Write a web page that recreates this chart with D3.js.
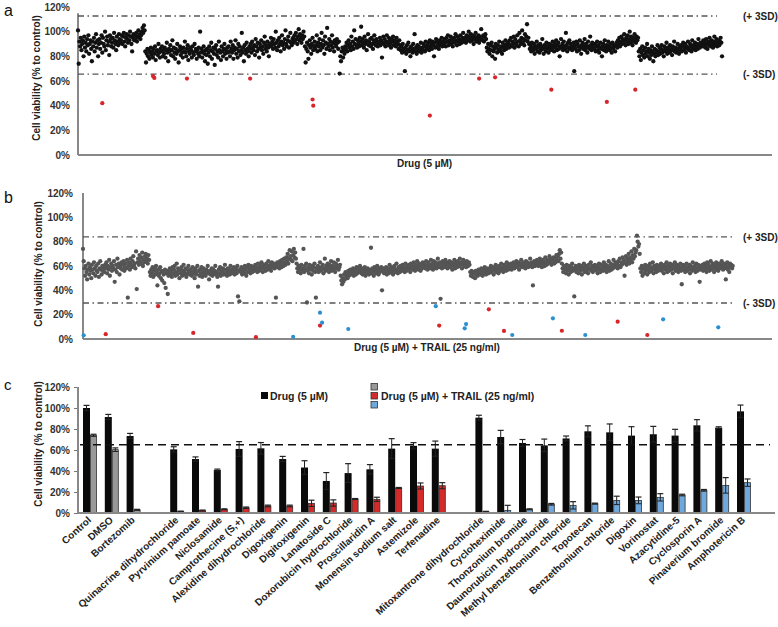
<!DOCTYPE html>
<html><head><meta charset="utf-8">
<script src="https://cdn.jsdelivr.net/npm/d3@7"></script>
<style>
body{margin:0;background:#fff;}
svg{display:block;font-family:Arial,"Liberation Sans",sans-serif;}
</style></head>
<body><svg id="chart" width="778" height="627"></svg>
<script>
// ---------- Panel a: Drug (5 µM) screen ----------
const aValues = [
101,74,92,88,95,85,90,93,80,96,87,91,84,94,89,97,82,90,93,86,76,92,88,95,84,91,98,87,93,80,90,
94,86,91,97,83,95,90,88,100,85,93,96,89,92,81,97,94,88,91,95,87,99,93,90,85,96,92,89,98,94,91,
93,97,90,96,99,92,88,95,98,94,91,97,93,100,96,90,84,95,98,93,97,94,99,92,96,101,95,98,94,97,100,
103,99,105,101,84,75,82,86,80,85,78,83,87,81,84,79,86,82,88,77,84,85,81,90,83,79,86,84,88,80,85,
82,87,79,85,91,83,76,86,84,89,81,85,93,80,87,83,78,86,82,90,84,75,85,88,81,86,83,79,87,84,92,
83,80,86,89,77,84,82,87,85,79,88,83,81,90,84,86,78,85,82,87,80,100,83,86,79,84,88,82,76,85,81,
86,74,83,88,80,85,91,78,84,87,82,73,86,89,81,84,79,92,85,83,77,88,84,80,86,90,82,85,78,87,83,
88,84,80,92,86,83,89,78,85,87,93,82,86,79,90,84,88,81,85,99,83,87,76,89,85,82,91,86,84,80,88,
86,90,83,92,87,85,89,81,94,88,84,91,86,79,90,87,93,85,88,82,91,96,86,89,84,92,87,80,90,88,95,
89,92,86,94,90,87,100,91,85,93,88,95,90,84,92,97,89,91,86,94,101,90,88,93,96,87,92,99,91,89,94,
95,91,97,93,99,94,90,96,102,93,98,95,91,97,94,100,96,88,75,86,91,84,78,89,93,87,82,90,95,85,88,
92,86,89,97,84,91,88,94,85,90,99,87,93,89,82,96,91,86,103,90,88,94,85,92,89,97,87,91,84,93,90,
88,94,91,86,92,66,80,76,84,87,79,85,82,88,86,91,84,89,93,87,90,85,96,88,92,86,101,90,94,89,87,
93,90,88,95,92,104,89,94,91,87,96,90,93,85,92,98,89,91,94,88,95,90,86,93,97,91,89,94,92,88,90,
92,95,89,93,79,91,96,90,94,88,92,97,91,89,95,93,90,87,94,92,96,89,93,91,88,95,92,90,86,93,89,
85,88,83,90,86,84,68,87,82,89,85,91,84,86,80,88,85,83,90,86,98,84,87,82,89,85,88,84,86,91,83,
87,85,90,88,84,92,86,89,87,91,85,93,88,90,86,92,89,80,91,87,94,88,92,90,86,93,89,91,95,88,92,
90,94,91,88,95,92,97,89,93,91,96,90,94,88,92,95,91,98,93,89,96,92,94,90,97,93,91,95,99,92,94,
95,91,97,93,96,100,94,92,98,95,93,97,90,96,94,99,92,95,93,97,91,96,94,102,95,93,97,92,96,98,94,
87,84,90,86,82,89,85,91,80,88,84,86,78,90,87,83,89,85,92,86,84,88,82,91,87,85,89,93,86,90,88,
91,87,93,89,95,88,92,90,96,87,94,91,89,97,92,88,99,93,90,95,101,91,94,89,98,93,96,106,92,95,90,
86,89,84,91,87,85,90,82,88,86,92,84,89,87,83,90,85,88,94,86,82,89,87,84,91,86,88,83,90,87,85,
89,86,92,88,84,90,87,93,85,89,91,86,80,88,94,87,90,85,92,88,86,99,89,84,91,87,93,86,90,88,85,
87,91,68,89,86,92,84,90,88,85,93,87,82,89,91,86,88,94,85,90,87,83,92,88,86,96,89,85,91,87,90,
86,90,84,88,92,85,89,83,87,91,86,80,88,90,85,93,87,84,89,86,92,88,85,90,87,83,91,86,89,88,84,
89,91,87,93,90,95,88,92,96,90,94,91,98,93,89,95,92,97,90,94,100,91,96,93,89,95,92,98,94,91,96,
93,95,84,80,86,77,83,88,81,85,79,87,82,84,90,80,86,83,78,85,81,88,84,76,82,86,80,85,83,89,81,
84,87,82,86,89,83,85,80,88,84,86,91,82,87,85,83,89,84,86,81,88,85,92,84,87,83,86,90,85,82,88,
86,89,84,88,91,85,87,90,83,88,86,92,87,85,90,88,84,93,86,89,87,91,85,88,90,86,94,88,87,91,89,
90,88,93,89,91,87,94,90,86,92,89,95,91,88,93,90,87,92,96,89,91,94,88,90,93,89,92,95,91,80
];
const aRedIdx = [35,108,110,157,248,338,339,507,578,601,682,762,803];
const aRedVal = [42,64,62.5,62,62,45,40,32,62,63,53,43,53];
const aSD = [112.7, 65.6];

// ---------- Panel b: Drug (5 µM) + TRAIL (25 ng/ml) screen ----------
const bValues = [
74,64,58,52,60,55,49,57,62,53,59,56,50,61,57,54,63,58,52,60,56,55,62,51,58,64,57,53,60,56,59,
55,61,58,63,54,60,57,65,52,59,62,56,60,58,64,47,57,61,55,66,59,62,53,60,58,63,57,61,64,56,59,
62,58,65,34,60,63,57,66,61,59,64,68,60,62,58,72,41,63,66,61,69,64,62,67,71,60,65,63,68,70,64,
66,62,69,65,55,52,57,54,59,51,56,58,53,60,55,44,57,52,54,59,50,56,48,55,53,46,57,42,54,56,37,
52,55,58,53,56,51,59,54,57,60,52,55,62,53,58,56,50,57,54,59,52,56,61,55,53,58,51,57,54,60,56,
53,57,55,52,59,54,56,50,58,53,55,60,43,56,52,57,54,59,51,55,58,53,56,52,57,55,60,54,49,56,53,
55,58,52,57,54,56,60,53,55,51,43,57,54,59,52,56,55,58,53,57,61,54,56,52,58,55,57,53,60,56,54,
57,55,59,53,56,58,54,60,35,56,31,57,55,59,53,58,56,54,60,57,52,59,55,61,56,58,54,60,57,55,59,
58,56,61,57,59,55,62,58,56,60,57,63,59,55,61,58,60,56,62,59,57,64,60,58,61,56,63,59,60,62,58,
61,34,59,63,60,62,58,64,61,59,65,62,60,66,63,61,67,64,70,62,66,73,68,65,72,64,69,74,67,71,66,
62,58,55,60,57,59,54,61,56,58,74,55,60,57,62,30,56,59,54,61,57,58,53,60,56,59,62,55,34,58,57,
60,55,58,63,56,59,57,61,54,58,66,56,60,57,62,59,55,61,58,64,56,60,57,63,59,55,62,58,60,65,57,
59,61,52,48,45,50,47,53,49,55,51,54,50,56,52,55,57,53,56,54,58,52,55,57,53,59,54,56,58,55,60,
56,54,58,53,57,55,59,52,56,54,58,56,53,57,55,75,54,58,56,52,59,55,57,54,60,56,53,58,55,57,59,
40,56,58,54,57,55,59,53,56,58,54,61,57,55,59,56,53,58,60,55,57,62,56,54,59,57,55,60,58,56,61,
57,59,55,62,58,56,60,57,61,59,55,62,58,60,57,63,59,56,61,58,64,60,57,62,59,56,61,58,63,60,59,
62,58,64,60,57,63,59,61,58,65,60,62,57,64,59,61,63,58,60,66,62,59,63,33,61,58,64,60,62,59,65,
61,63,58,62,60,64,59,61,63,57,62,60,65,58,63,61,59,64,62,60,66,61,63,58,62,65,60,63,61,59,64,
62,60,63,61,55,52,56,53,51,55,54,50,56,53,55,52,57,54,56,53,58,55,52,57,54,59,56,53,58,55,57,
54,58,56,60,55,57,59,53,58,56,61,55,59,57,54,60,58,56,62,57,59,55,61,58,60,56,63,59,57,61,58,
60,62,57,61,59,63,58,62,60,64,59,61,63,57,62,60,65,61,59,63,60,62,58,64,61,63,59,62,60,66,61,
63,59,44,62,64,60,63,61,65,62,60,64,66,61,63,59,65,62,64,60,67,63,61,65,62,64,68,63,66,61,65,
64,67,62,66,63,69,65,68,64,70,73,66,71,62,58,55,60,57,59,54,61,56,58,53,60,57,55,59,62,56,58,
35,57,60,55,59,57,54,61,58,56,60,53,59,57,62,55,58,60,56,59,54,61,57,58,63,56,60,55,59,57,61,
58,56,60,54,59,62,57,55,61,58,60,56,63,59,57,61,55,60,58,64,56,59,62,57,60,58,65,61,59,63,60,
62,58,64,60,66,59,63,61,67,62,65,52,63,68,61,66,64,70,62,67,65,72,63,69,66,74,68,71,73,85,80,
76,78,70,58,55,60,52,57,59,54,61,56,58,53,60,57,55,62,59,56,58,63,54,60,57,59,55,61,58,56,60,
57,59,62,56,60,58,54,61,57,59,63,55,60,58,56,62,59,57,61,54,60,58,63,56,59,61,57,55,60,58,62,
56,45,59,61,57,60,55,58,62,56,59,57,61,54,60,58,56,63,59,57,60,55,62,58,56,61,59,47,57,60,58,
61,56,59,62,57,60,55,63,58,61,56,59,64,57,60,62,58,55,61,59,63,57,60,56,62,58,61,59,64,60,57,
62,58,61,49,59,63,57,60,55,62,59,61,58,60
];
const bBlueIdx = [1,305,344,347,385,512,554,556,623,682,729,842,922];
const bBlueVal = [3,1.8,21.6,13.4,8.2,27,8.8,12.3,3.3,17,3.3,16.2,9.6];
const bRedIdx = [33,109,160,251,344,517,589,611,695,776,819];
const bRedVal = [4,27,5,1.5,11,11,24.4,6.6,6.8,14.2,3.3];
const bSD = [84, 29.6];

// ---------- Panel c: selected hits ----------
const categories = ["Control","DMSO","Bortezomib","",
 "Quinacrine dihydrochloride","Pyrvinium pamoate","Niclosamide","Camptothecine (S,+)",
 "Alexidine dihydrochloride","Digoxigenin","Digitoxigenin","Lanatoside C",
 "Doxorubicin hydrochloride","Proscillaridin A","Monensin sodium salt","Astemizole","Terfenadine"," ",
 "Mitoxantrone dihydrochloride","Cycloheximide","Thonzonium bromide","Daunorubicin hydrochloride",
 "Methyl benzethonium chloride","Topotecan","Benzethonium chloride","Digoxin","Vorinostat",
 "Azacytidine-5","Cyclosporin A","Pinaverium bromide","Amphotericin B"];
const drugVals = [100,91.4,73.3,null,60.6,51.4,41,61,61.6,51.4,43.3,30.5,38,41.6,61.3,64,61.3,null,
 90.8,72.4,66.7,64.4,71,77.8,76.8,73.7,75,73.7,83.5,81.3,96.8];
const drugErr = [2.5,2.5,2.5,null,2.5,2,0.8,7,5.5,2.5,6.5,8,9,4.5,9.5,3,7.2,null,
 2.3,6.3,3.3,6,2.3,5.2,8,8.5,7.5,6,5.4,0.8,6];
const trailVals = [74,60.3,3,null,1.5,2.3,3.5,5,6.7,6.7,9.2,9.5,13.3,13,23.8,25.7,26,null,
 1.3,2.5,3.5,8.3,7.3,8.9,12,12,14.9,17.1,21.6,26.3,28.9];
const trailErr = [1,1.7,0.5,null,0.3,0.5,0.5,0.7,0.8,0.8,3,3,0.5,2,0.5,2.9,2.9,null,
 0.3,4.8,0.5,0.8,3.5,0.5,4,3.2,3.5,0.8,0.8,7.4,3.5];
const trailGroup = ["ctrl","ctrl","ctrl",null,"red","red","red","red","red","red","red","red","red","red","red","red","red",null,
 "blue","blue","blue","blue","blue","blue","blue","blue","blue","blue","blue","blue","blue"];
const cCutoff = 65;
const yTicks = [0,20,40,60,80,100,120];

const groupColor = {ctrl:"#999999", red:"#d42a2a", blue:"#6fa8dc"};
const FONT = "Arial, 'Liberation Sans', sans-serif";
const svg = d3.select("#chart");
const pct = d => d + "%";

function yAxis(g, y, x0, pad, tickLen){
  const ax = d3.axisLeft(y).tickValues(yTicks).tickFormat(pct).tickSize(tickLen).tickPadding(pad);
  g.attr("transform", `translate(${x0},0)`).call(ax);
  g.select(".domain").remove();
  g.selectAll(".tick line").attr("stroke","#777");
  g.selectAll(".tick text").attr("font-size",10).attr("font-weight","bold").attr("fill","#333").attr("font-family",FONT);
}
function yLabel(x, y, txt){
  svg.append("text").attr("transform",`translate(${x},${y}) rotate(-90)`).attr("text-anchor","middle")
    .attr("font-size",10).attr("font-weight","bold").attr("fill","#222").text(txt);
}
function panelLetter(x,y,t,fs){
  svg.append("text").attr("x",x).attr("y",y).attr("font-size",fs).attr("fill","#111").text(t);
}
function sdLines(x, y, vals, x1, x2){
  vals.forEach((v,i)=>{
    svg.append("line").attr("x1",x1).attr("x2",x2).attr("y1",y(v)).attr("y2",y(v))
      .attr("stroke","#555").attr("stroke-width",1.3).attr("stroke-dasharray","6,3.5,1.5,3.5");
    svg.append("text").attr("x",743).attr("y",y(v)+4).attr("font-size",10).attr("font-weight","bold")
      .attr("fill","#222").text(i===0?"(+ 3SD)":"(- 3SD)");
  });
}

// ===== Panel a =====
{
  const y = d3.scaleLinear([0,120],[155,7]);
  const x = d3.scaleLinear([0,1000],[78,772]);
  yAxis(svg.append("g"), y, 78, 8, 0);
  svg.append("line").attr("x1",78).attr("x2",78).attr("y1",y(115)).attr("y2",y(0)).attr("stroke","#888").attr("stroke-width",2);
  svg.append("line").attr("x1",78).attr("x2",772).attr("y1",y(0)).attr("y2",y(0)).attr("stroke","#888").attr("stroke-width",2);
  sdLines(x, y, aSD, 78, 717);
  svg.append("g").selectAll("circle").data(aValues).join("circle")
    .attr("cx",(d,i)=>x(i)).attr("cy",d=>y(d)).attr("r",2.15).attr("fill","#111");
  svg.append("g").selectAll("circle").data(aRedIdx).join("circle")
    .attr("cx",d=>x(d)).attr("cy",(d,i)=>y(aRedVal[i])).attr("r",2.1).attr("fill","#d7262b");
  svg.append("text").attr("x",397).attr("y",167).attr("font-size",10).attr("font-weight","bold").attr("fill","#222").text("Drug (5 µM)");
  yLabel(40, 78, "Cell viability (% to control)");
  panelLetter(4,16,"a",16);
}

// ===== Panel b =====
{
  const y = d3.scaleLinear([0,120],[339,193]);
  const x = d3.scaleLinear([0,1000],[83,772]);
  yAxis(svg.append("g"), y, 83, 10, 0);
  svg.append("line").attr("x1",83).attr("x2",83).attr("y1",y(120)).attr("y2",y(0)).attr("stroke","#888").attr("stroke-width",2);
  svg.append("line").attr("x1",83).attr("x2",772).attr("y1",y(0)).attr("y2",y(0)).attr("stroke","#888").attr("stroke-width",2);
  sdLines(x, y, bSD, 83, 733);
  svg.append("g").selectAll("circle").data(bValues).join("circle")
    .attr("cx",(d,i)=>x(i)).attr("cy",d=>y(d)).attr("r",2.15).attr("fill","#555");
  svg.append("g").selectAll("circle").data(bRedIdx).join("circle")
    .attr("cx",d=>x(d)).attr("cy",(d,i)=>y(bRedVal[i])).attr("r",2.1).attr("fill","#d7262b");
  svg.append("g").selectAll("circle").data(bBlueIdx).join("circle")
    .attr("cx",d=>x(d)).attr("cy",(d,i)=>y(bBlueVal[i])).attr("r",2.1).attr("fill","#2b8fd0");
  svg.append("text").attr("x",354).attr("y",351).attr("font-size",10).attr("font-weight","bold").attr("fill","#222").text("Drug (5 µM) + TRAIL (25 ng/ml)");
  yLabel(42, 264, "Cell viability (% to control)");
  panelLetter(4,203,"b",16);
}

// ===== Panel c =====
{
  const y = d3.scaleLinear([0,120],[513,387]);
  const x = d3.scaleBand().domain(d3.range(categories.length)).range([78, 78+31*21.8]);
  const sub = d3.scaleBand().domain(["drug","trail"]).range([5,19]);
  yAxis(svg.append("g"), y, 78, 4, 4);
  svg.append("line").attr("x1",78).attr("x2",78).attr("y1",y(120)).attr("y2",y(0)).attr("stroke","#888").attr("stroke-width",2);

  const idx = d3.range(categories.length).filter(i=>drugVals[i]!=null);
  const bw = sub.bandwidth();
  svg.append("g").selectAll("rect").data(idx).join("rect")
    .attr("x",i=>x(i)+sub("drug")).attr("width",bw)
    .attr("y",i=>y(drugVals[i])).attr("height",i=>y(0)-y(drugVals[i]))
    .attr("fill","#0a0a0a");
  svg.append("g").selectAll("rect").data(idx).join("rect")
    .attr("x",i=>x(i)+sub("trail")+0.5).attr("width",bw-1)
    .attr("y",i=>y(trailVals[i])).attr("height",i=>y(0)-y(trailVals[i]))
    .attr("fill",i=>groupColor[trailGroup[i]]).attr("stroke","#333").attr("stroke-width",0.8);
  function errBars(vals, errs, key){
    const g = svg.append("g");
    idx.forEach(i=>{
      const cx = x(i)+sub(key)+bw/2;
      const top = y(vals[i]+errs[i]), bot = y(Math.max(0,vals[i]-errs[i]));
      g.append("line").attr("x1",cx).attr("x2",cx).attr("y1",top).attr("y2",bot).attr("stroke","#222").attr("stroke-width",1);
      g.append("line").attr("x1",cx-3).attr("x2",cx+3).attr("y1",top).attr("y2",top).attr("stroke","#222").attr("stroke-width",1.2);
      g.append("line").attr("x1",cx-3).attr("x2",cx+3).attr("y1",bot).attr("y2",bot).attr("stroke","#222").attr("stroke-width",1);
    });
  }
  errBars(drugVals, drugErr, "drug");
  errBars(trailVals, trailErr, "trail");
  svg.append("line").attr("x1",80).attr("x2",770).attr("y1",y(cCutoff)).attr("y2",y(cCutoff))
    .attr("stroke","#111").attr("stroke-width",1.5).attr("stroke-dasharray","8,5");
  svg.append("line").attr("x1",78).attr("x2",775).attr("y1",y(0)).attr("y2",y(0)).attr("stroke","#888").attr("stroke-width",2);

  svg.append("g").selectAll("text").data(categories).join("text")
    .attr("transform",(d,i)=>`translate(${x(i)+x.bandwidth()/2+3},521) rotate(-42)`)
    .attr("text-anchor","end").attr("font-size",10).attr("font-weight","bold").attr("fill","#222").text(d=>d);

  svg.append("rect").attr("x",261).attr("y",392).attr("width",7).attr("height",7).attr("fill","#0a0a0a");
  svg.append("text").attr("x",270).attr("y",400).attr("font-size",10.5).attr("font-weight","bold").attr("fill","#222").text("Drug (5 µM)");
  ["ctrl","red","blue"].forEach((k,j)=>{
    svg.append("rect").attr("x",371).attr("y",383.5+j*9).attr("width",6.5).attr("height",6.5)
      .attr("fill",groupColor[k]).attr("stroke","#333").attr("stroke-width",0.8);
  });
  svg.append("text").attr("x",381).attr("y",400).attr("font-size",10.5).attr("font-weight","bold").attr("fill","#222").text("Drug (5 µM) + TRAIL (25 ng/ml)");
  yLabel(42, 444, "Cell viability (% to control)");
  panelLetter(4,390,"c",15);
}
</script></body></html>
